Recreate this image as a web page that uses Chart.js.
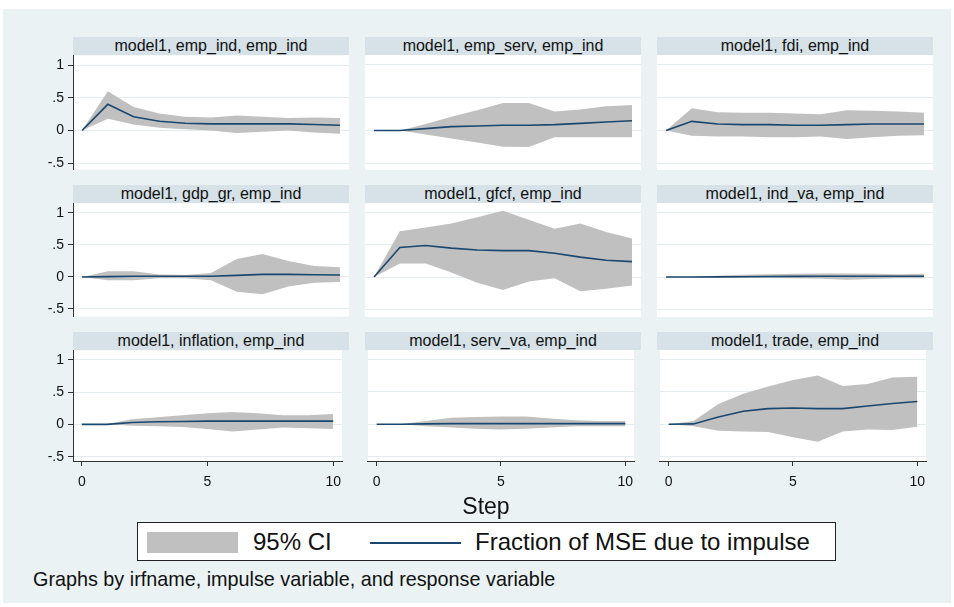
<!DOCTYPE html>
<html>
<head>
<meta charset="utf-8">
<script src="https://cdn.jsdelivr.net/npm/chart.js@4.4.1/dist/chart.umd.min.js"></script>
<style>
  body { margin: 0; background: #fff; font-family: "Liberation Sans", Arial, sans-serif; color: #111; }
  #bg { position: absolute; left: 3px; top: 9px; width: 948px; height: 594px; background: #eaf2f3; }
  .hdr { position: absolute; height: 18px; line-height: 18px; background: #d6e2e7; text-align: center; font-size: 16px; white-space: nowrap; }
  .panel { position: absolute; }
  #step { position: absolute; left: 386px; width: 200px; top: 493px; text-align: center; font-size: 23px; }
  #legend { position: absolute; left: 137px; top: 522px; width: 697px; height: 37px; background: #fff; border: 1px solid #222; }
  #legend .sw { position: absolute; left: 9px; top: 9px; width: 91px; height: 21px; background: #c0c0c0; }
  #legend .ln { position: absolute; left: 232px; top: 19px; width: 91px; height: 2px; background: #1a476f; }
  #legend .tx { position: absolute; top: 5px; font-size: 24px; line-height: 27px; white-space: nowrap; }
  #note { position: absolute; left: 33px; top: 568px; font-size: 19.8px; white-space: nowrap; }
</style>
</head>
<body>
<div id="bg"></div>
<div id="panels"></div>
<div id="step">Step</div>
<div id="legend">
  <div class="sw"></div><div class="tx" style="left:115px">95% CI</div>
  <div class="ln"></div><div class="tx" style="left:337px">Fraction of MSE due to impulse</div>
</div>
<div id="note">Graphs by irfname, impulse variable, and response variable</div>
<script>
// forecast error variance decomposition, response emp_ind
const steps = [0, 1, 2, 3, 4, 5, 6, 7, 8, 9, 10];
const yTicks = [-0.5, 0, 0.5, 1];
const xTicks = [0, 5, 10];

const empIndFrac = [0, 0.40, 0.21, 0.14, 0.11, 0.10, 0.10, 0.10, 0.10, 0.09, 0.08];
const empIndLo   = [0, 0.18, 0.09, 0.04, 0.02, 0.00, -0.04, -0.02, 0.00, -0.03, -0.05];
const empIndHi   = [0, 0.60, 0.36, 0.26, 0.21, 0.20, 0.23, 0.21, 0.19, 0.20, 0.19];

const empServFrac = [0, 0, 0.03, 0.06, 0.07, 0.08, 0.08, 0.09, 0.11, 0.13, 0.15];
const empServLo   = [0, 0, -0.06, -0.12, -0.18, -0.245, -0.25, -0.10, -0.10, -0.10, -0.10];
const empServHi   = [0, 0, 0.10, 0.21, 0.31, 0.42, 0.42, 0.29, 0.32, 0.37, 0.39];

const fdiFrac = [0, 0.14, 0.10, 0.09, 0.09, 0.08, 0.08, 0.09, 0.10, 0.10, 0.10];
const fdiLo   = [0, -0.08, -0.09, -0.09, -0.10, -0.10, -0.09, -0.13, -0.10, -0.08, -0.07];
const fdiHi   = [0, 0.34, 0.28, 0.27, 0.27, 0.26, 0.25, 0.31, 0.30, 0.29, 0.27];

const gdpGrFrac = [0, 0.005, 0.01, 0.01, 0.01, 0.01, 0.025, 0.04, 0.04, 0.035, 0.03];
const gdpGrLo   = [0, -0.05, -0.05, -0.02, -0.02, -0.05, -0.23, -0.27, -0.15, -0.09, -0.08];
const gdpGrHi   = [0, 0.09, 0.09, 0.04, 0.03, 0.06, 0.28, 0.36, 0.25, 0.17, 0.15];

const gfcfFrac = [0, 0.46, 0.49, 0.45, 0.42, 0.41, 0.41, 0.37, 0.31, 0.26, 0.24];
const gfcfLo   = [0, 0.21, 0.21, 0.07, -0.09, -0.20, -0.07, -0.02, -0.22, -0.18, -0.13];
const gfcfHi   = [0, 0.71, 0.77, 0.83, 0.93, 1.03, 0.89, 0.75, 0.83, 0.70, 0.60];

const indVaFrac = [0, 0, 0.003, 0.005, 0.008, 0.01, 0.012, 0.012, 0.012, 0.012, 0.012];
const indVaLo   = [0, -0.002, -0.008, -0.01, -0.015, -0.02, -0.025, -0.04, -0.03, -0.02, -0.02];
const indVaHi   = [0, 0.002, 0.02, 0.035, 0.045, 0.05, 0.055, 0.055, 0.05, 0.045, 0.05];

const inflationFrac = [0, 0, 0.03, 0.04, 0.045, 0.05, 0.05, 0.05, 0.05, 0.05, 0.05];
const inflationLo   = [0, 0, -0.02, -0.03, -0.04, -0.07, -0.11, -0.08, -0.05, -0.06, -0.07];
const inflationHi   = [0, 0.005, 0.08, 0.11, 0.14, 0.17, 0.19, 0.17, 0.14, 0.14, 0.16];

const servVaFrac = [0, 0, 0.005, 0.01, 0.01, 0.01, 0.01, 0.01, 0.01, 0.01, 0.01];
const servVaLo   = [0, 0, -0.03, -0.05, -0.07, -0.08, -0.07, -0.05, -0.03, -0.03, -0.03];
const servVaHi   = [0, 0.005, 0.05, 0.10, 0.11, 0.12, 0.12, 0.09, 0.06, 0.05, 0.05];

const tradeFrac = [0, 0.005, 0.11, 0.20, 0.24, 0.25, 0.24, 0.24, 0.28, 0.32, 0.35];
const tradeLo   = [0, -0.03, -0.10, -0.11, -0.12, -0.20, -0.27, -0.11, -0.08, -0.09, -0.04];
const tradeHi   = [0, 0.05, 0.31, 0.47, 0.58, 0.68, 0.75, 0.59, 0.62, 0.72, 0.73];

const panels = [
  ['model1, emp_ind, emp_ind', empIndFrac, empIndLo, empIndHi],
  ['model1, emp_serv, emp_ind', empServFrac, empServLo, empServHi],
  ['model1, fdi, emp_ind', fdiFrac, fdiLo, fdiHi],
  ['model1, gdp_gr, emp_ind', gdpGrFrac, gdpGrLo, gdpGrHi],
  ['model1, gfcf, emp_ind', gfcfFrac, gfcfLo, gfcfHi],
  ['model1, ind_va, emp_ind', indVaFrac, indVaLo, indVaHi],
  ['model1, inflation, emp_ind', inflationFrac, inflationLo, inflationHi],
  ['model1, serv_va, emp_ind', servVaFrac, servVaLo, servVaHi],
  ['model1, trade, emp_ind', tradeFrac, tradeLo, tradeHi],
];

// layout of the grid
const colLeft = [73, 365, 657];
const rowTop = [55, 203, 350];
const plotW = 276;
const plotH = [115, 114, 111];
const rowMin = [-0.6, -0.62, -0.566];
const rowMax = [1.15, 1.15, 1.143];
const yAxisW = 50, padTop = 12, xAxisH = 35;

const whitePlot = {
  id: 'whitePlot',
  beforeDraw(chart) {
    const a = chart.chartArea, ctx = chart.ctx;
    ctx.save();
    ctx.fillStyle = '#fff';
    ctx.fillRect(a.left, a.top, a.right - a.left, a.bottom - a.top);
    ctx.restore();
  }
};

const pts = arr => arr.map((v, i) => ({x: steps[i], y: v}));
const fmt = v => v === 0 ? '0' : (v < 0 ? '-' : '') + String(Math.abs(v)).replace(/^0/, '');
const tickFont = {family: '"Liberation Sans", Arial, sans-serif', size: 14};

const holder = document.getElementById('panels');
panels.forEach((p, i) => {
  const r = Math.floor(i / 3), c = i % 3;
  const hasY = c === 0, hasX = r === 2;

  const hdr = document.createElement('div');
  hdr.className = 'hdr';
  hdr.style.left = colLeft[c] + 'px';
  hdr.style.top = (rowTop[r] - 18) + 'px';
  hdr.style.width = plotW + 'px';
  hdr.textContent = p[0];
  holder.appendChild(hdr);

  const w = plotW + (hasY ? yAxisW : 0);
  const h = padTop + plotH[r] + (hasX ? xAxisH : padTop);
  const box = document.createElement('div');
  box.className = 'panel';
  box.style.left = (colLeft[c] - (hasY ? yAxisW : 0)) + 'px';
  box.style.top = (rowTop[r] - padTop) + 'px';
  const canvas = document.createElement('canvas');
  canvas.width = w; canvas.height = h;
  canvas.style.width = w + 'px'; canvas.style.height = h + 'px';
  box.appendChild(canvas);
  holder.appendChild(box);

  new Chart(canvas.getContext('2d'), {
    type: 'line',
    data: {
      datasets: [
        {data: pts(p[1]), borderColor: '#1a476f', borderWidth: 1.6, pointRadius: 0, fill: false, tension: 0},
        {data: pts(p[2]), borderColor: 'rgba(0,0,0,0)', borderWidth: 0, pointRadius: 0, fill: false},
        {data: pts(p[3]), borderColor: 'rgba(0,0,0,0)', borderWidth: 0, pointRadius: 0, fill: 1, backgroundColor: '#c0c0c0'}
      ]
    },
    options: {
      responsive: false,
      animation: false,
      events: [],
      layout: {padding: {top: padTop, bottom: hasX ? 0 : padTop, left: 0, right: 0}},
      plugins: {legend: {display: false}, tooltip: {enabled: false}},
      scales: {
        x: {
          type: 'linear', min: -0.35, max: 10.35,
          display: hasX,
          afterBuildTicks: s => { s.ticks = xTicks.map(v => ({value: v})); },
          afterFit: s => { s.height = hasX ? xAxisH : 0; },
          grid: {drawOnChartArea: false, drawTicks: true, tickLength: 5, tickColor: '#333'},
          border: {display: true, color: '#333', width: 1},
          ticks: {color: '#111', font: tickFont, padding: 8, maxRotation: 0, callback: v => fmt(v)}
        },
        y: {
          type: 'linear', min: rowMin[r], max: rowMax[r],
          afterBuildTicks: s => { s.ticks = yTicks.map(v => ({value: v})); },
          afterFit: s => { s.width = hasY ? yAxisW : 0; },
          grid: {color: '#e4ecef', lineWidth: 1, drawTicks: hasY, tickLength: 5, tickColor: '#333'},
          border: {display: hasY, color: '#333', width: 1},
          ticks: {display: hasY, color: '#111', font: tickFont, padding: 4, callback: v => fmt(v)}
        }
      }
    },
    plugins: [whitePlot]
  });
});
</script>
</body>
</html>
